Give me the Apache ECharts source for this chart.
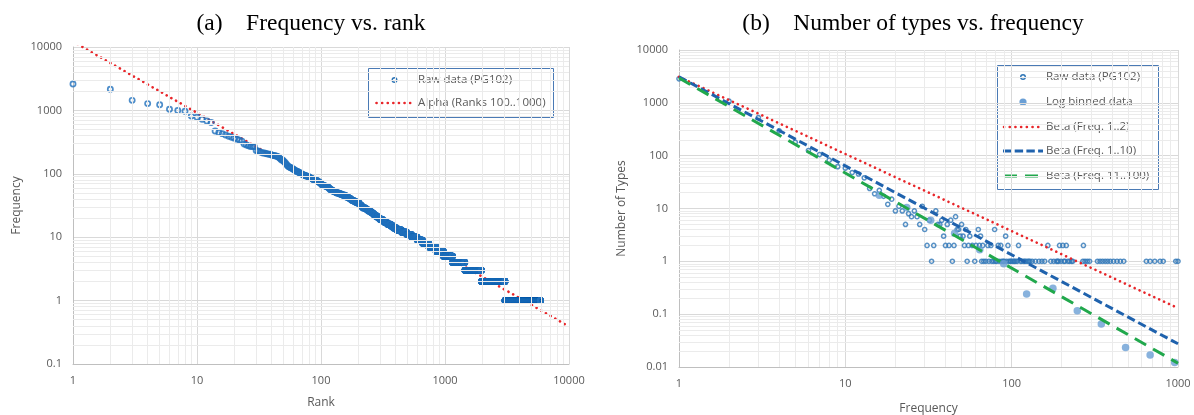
<!DOCTYPE html>
<html><head><meta charset="utf-8">
<script src="https://cdn.jsdelivr.net/npm/echarts@6/dist/echarts.min.js"></script>
<style>html,body{margin:0;padding:0;background:#fff}#c{width:1194px;height:415px}</style>
</head><body><div id="c"></div>
<script>
// ---------------- data ----------------
const titleA = '(a)    Frequency vs. rank';
const titleB = '(b)    Number of types vs. frequency';

// frequency spectrum (PG102): word frequency -> number of word types with that frequency
const typeFreq = [1,2,3,4,5,6,7,8,9,10,
  11,12,13,14,15,16,17,18,19,20,21,22,23,24,25,26,27,28,29,30,
  31,32,33,34,35,36,37,38,39,40,41,42,43,44,45,46,47,48,49,50,
  51,52,53,54,55,56,58,60,61,63,64,65,66,67,68,70,72,73,75,76,78,79,80,81,83,84,86,87,89,90,92,93,95,96,98,99,
  101,103,104,106,108,110,113,115,118,120,122,125,127,129,
  133,139,146,152,158,165,172,179,186,
  189,191,194,198,203,206,209,213,218,223,229,233,268,270,276,285,294,
  328,340,352,365,378,392,410,430,450,472,
  645,680,725,780,815,970,1000,1040,1230,1280,1440,2150,2610];
const typeCount = [2850,1075,525,295,180,125,105,82,62,58,
  48,45,38,24,19,22,17,12,15,9,11,9,5,8,7,9,7,5,11,4,
  2,6,1,2,9,5,5,6,3,2,5,2,6,1,2,7,4,4,3,5,
  3,2,4,1,2,3,2,1,2,4,2,3,1,2,1,1,2,1,2,1,1,4,1,1,2,1,2,1,1,1,3,1,2,1,1,1,
  1,1,1,1,1,2,1,1,1,1,1,1,1,1,
  1,1,1,1,1,2,1,1,1,
  1,1,2,1,2,1,1,2,1,1,1,1,1,2,1,1,1,
  1,1,1,1,1,1,1,1,1,1,
  1,1,1,1,1,1,1,1,1,1,1,1,1];

// log-binned spectrum
const binFreq  = [16, 23.4, 32.6, 45.4, 64.3, 89.6, 123, 177, 248, 346, 484, 680, 955];
const binTypes = [17.8, 10.4, 6.0, 3.4, 1.65, 0.9, 0.24, 0.31, 0.116, 0.065, 0.0234, 0.0168, 0.0122];

// fitted power laws (end points)
const alphaRank = [1, 10000];
const alphaFreq = [12200, 0.39];
const betaFreq = [1, 1000];
const beta12Types = [3100, 0.13];
const beta110Types = [3100, 0.0275];
const beta11100Types = [2950, 0.0118];

const namesA = ['Raw data (PG102)', 'Alpha (Ranks 100..1000)'];
const namesB = ['Raw data (PG102)', 'Log binned data', 'Beta (Freq. 1..2)', 'Beta (Freq. 1..10)', 'Beta (Freq. 11..100)'];

const rangeRank = [1, 10000], rangeFreqA = [0.1, 10000];
const rangeFreqB = [1, 1000], rangeTypes = [0.01, 10000];

// ---------------- build ----------------
const pairs = typeFreq.map((f, i) => [f, typeCount[i]]).sort((a, b) => b[0] - a[0]);
const rankFreq = [];
let r = 0;
pairs.forEach(([f, n]) => { for (let k = 0; k < n; k++) { r++; rankFreq.push([r, f]); } });
const spectrum = typeFreq.map((f, i) => [f, typeCount[i]]).filter(p => p[0] <= rangeFreqB[1]);
const binned = binFreq.map((f, i) => [f, binTypes[i]]);
const zip = (a, b) => a.map((v, i) => [v, b[i]]);

const RAW = '#2e75b6', BAND = '#2170bd', BIN = '#6a9fd5', RED = '#e8262a', BLUE = '#1f62ad', GREEN = '#21a84c';
const LABEL = '#595959';
const FONT = '"Open Sans", "Liberation Sans", sans-serif';

function minors(lo, hi) {
  const out = [];
  for (let e = Math.round(Math.log10(lo)); e < Math.round(Math.log10(hi)); e++)
    for (let k = 2; k <= 9; k++) out.push(+(k * Math.pow(10, e)).toPrecision(3));
  return out;
}
function minorLines(xr, yr) {
  return {
    silent: true, symbol: ['none', 'none'], z: 1, animation: false,
    label: { show: false }, emphasis: { disabled: true },
    lineStyle: { color: '#ebebeb', width: 1, type: 'solid' },
    data: minors(xr[0], xr[1]).map(v => ({ xAxis: v })).concat(minors(yr[0], yr[1]).map(v => ({ yAxis: v })))
  };
}
const fmt = v => String(+(+v).toPrecision(4));
function axis(name, range, gap, idx) {
  return {
    type: 'log', logBase: 10, min: range[0], max: range[1], gridIndex: idx,
    name: name, nameLocation: 'middle', nameGap: gap,
    nameTextStyle: { color: LABEL, fontSize: 12, fontFamily: FONT },
    axisLine: { show: true, lineStyle: { color: '#bfbfbf', width: 1 } },
    axisTick: { show: false },
    axisLabel: { color: LABEL, fontSize: 11, fontFamily: FONT, margin: 11, formatter: fmt },
    splitLine: { show: true, lineStyle: { color: '#d9d9d9', width: 1 } },
    minorTick: { show: false }, minorSplitLine: { show: false }
  };
}
const dotted = (c) => ({ color: c, width: 2.6, type: [0.1, 5.3], cap: 'round' });

// legends drawn as graphics
function legendGraphics(box, rows, textX) {
  const g = [{ type: 'rect', shape: { x: box[0] + 0.5, y: box[1] + 0.5, width: box[2], height: box[3] },
    style: { fill: '#ffffff', stroke: '#4a7ab5', lineWidth: 1 } }];
  rows.forEach(row => {
    const y = row.y;
    if (row.kind === 'open') g.push({ type: 'circle', shape: { cx: row.cx, cy: y, r: 2.3 }, style: { fill: 'none', stroke: RAW, lineWidth: 1.4 } });
    if (row.kind === 'fill') g.push({ type: 'circle', shape: { cx: row.cx, cy: y, r: 3.6 }, style: { fill: BIN } });
    if (row.kind === 'line') g.push({ type: 'line', shape: { x1: row.x1, y1: y, x2: row.x2, y2: y },
      style: { stroke: row.color, lineWidth: row.w, lineDash: row.dash, lineCap: row.cap || 'butt' } });
    g.push({ type: 'text', style: { text: row.text, x: textX, y: y, fill: LABEL, font: '11.5px ' + FONT, verticalAlign: 'middle' } });
  });
  return g;
}
const graphics = [].concat(
  legendGraphics([368, 68, 185, 49], [
    { kind: 'open', cx: 394.5, y: 80, text: namesA[0] },
    { kind: 'line', x1: 376.5, x2: 415, y: 103, color: RED, w: 2.6, dash: [0.1, 5.5], cap: 'round', text: namesA[1] }
  ], 418),
  legendGraphics([997, 65, 161, 124], [
    { kind: 'open', cx: 1023, y: 77, text: namesB[0] },
    { kind: 'fill', cx: 1023, y: 102, text: namesB[1] },
    { kind: 'line', x1: 1004, x2: 1043, y: 127, color: RED, w: 2.6, dash: [0.1, 5.6], cap: 'round', text: namesB[2] },
    { kind: 'line', x1: 1003, x2: 1043, y: 151, color: BLUE, w: 3, dash: [8.4, 3.3], text: namesB[3] },
    { kind: 'line', x1: 1004, x2: 1043, y: 176, color: GREEN, w: 3, dash: [13, 8], text: namesB[4] }
  ], 1046)
);

const chart = echarts.init(document.getElementById('c'), null, { renderer: 'canvas' });
chart.setOption({
  animation: false,
  backgroundColor: '#fff',
  title: [
    { text: titleA, left: 306, top: 7, textAlign: 'center', textStyle: { fontFamily: '"Liberation Serif", serif', fontSize: 23.5, fontWeight: 'normal', color: '#000' } },
    { text: titleB, left: 908, top: 7, textAlign: 'center', textStyle: { fontFamily: '"Liberation Serif", serif', fontSize: 23.5, fontWeight: 'normal', color: '#000' } }
  ],
  grid: [
    { left: 73, top: 47, width: 496, height: 317, containLabel: false, outerBoundsMode: 'none' },
    { left: 679, top: 50, width: 499, height: 317, containLabel: false, outerBoundsMode: 'none' }
  ],
  xAxis: [axis('Rank', rangeRank, 33, 0), axis('Frequency', rangeFreqB, 36, 1)],
  yAxis: [axis('Frequency', rangeFreqA, 50, 0), axis('Number of Types', rangeTypes, 51, 1)],
  series: [
    { name: namesA[1], type: 'line', xAxisIndex: 0, yAxisIndex: 0, data: zip(alphaRank, alphaFreq), symbol: 'none', clip: true,
      lineStyle: dotted(RED), z: 1.5 },
    { name: namesA[0], type: 'scatter', xAxisIndex: 0, yAxisIndex: 0, data: rankFreq, large: false,
      symbol: 'circle', symbolSize: 5.2, itemStyle: { color: 'rgba(0,0,0,0)', borderColor: BAND, borderWidth: 1.7 },
      markLine: minorLines(rangeRank, rangeFreqA) },
    { name: namesB[0], type: 'scatter', xAxisIndex: 1, yAxisIndex: 1, data: spectrum,
      symbol: 'circle', symbolSize: 4.2, itemStyle: { color: 'rgba(0,0,0,0)', borderColor: RAW, borderWidth: 1.5 },
      markLine: minorLines(rangeFreqB, rangeTypes) },
    { name: namesB[1], type: 'scatter', xAxisIndex: 1, yAxisIndex: 1, data: binned,
      symbol: 'circle', symbolSize: 7.5, itemStyle: { color: BIN } },
    { name: namesB[2], type: 'line', xAxisIndex: 1, yAxisIndex: 1, data: zip(betaFreq, beta12Types), symbol: 'none', lineStyle: dotted(RED), z: 3 },
    { name: namesB[3], type: 'line', xAxisIndex: 1, yAxisIndex: 1, data: zip(betaFreq, beta110Types), symbol: 'none',
      lineStyle: { color: BLUE, width: 3, type: [8.4, 4] }, z: 3 },
    { name: namesB[4], type: 'line', xAxisIndex: 1, yAxisIndex: 1, data: zip(betaFreq, beta11100Types), symbol: 'none',
      lineStyle: { color: GREEN, width: 3, type: [13, 8] }, z: 3 }
  ],
  graphic: { zlevel: 1, z: 100, elements: graphics }
});
</script></body></html>
